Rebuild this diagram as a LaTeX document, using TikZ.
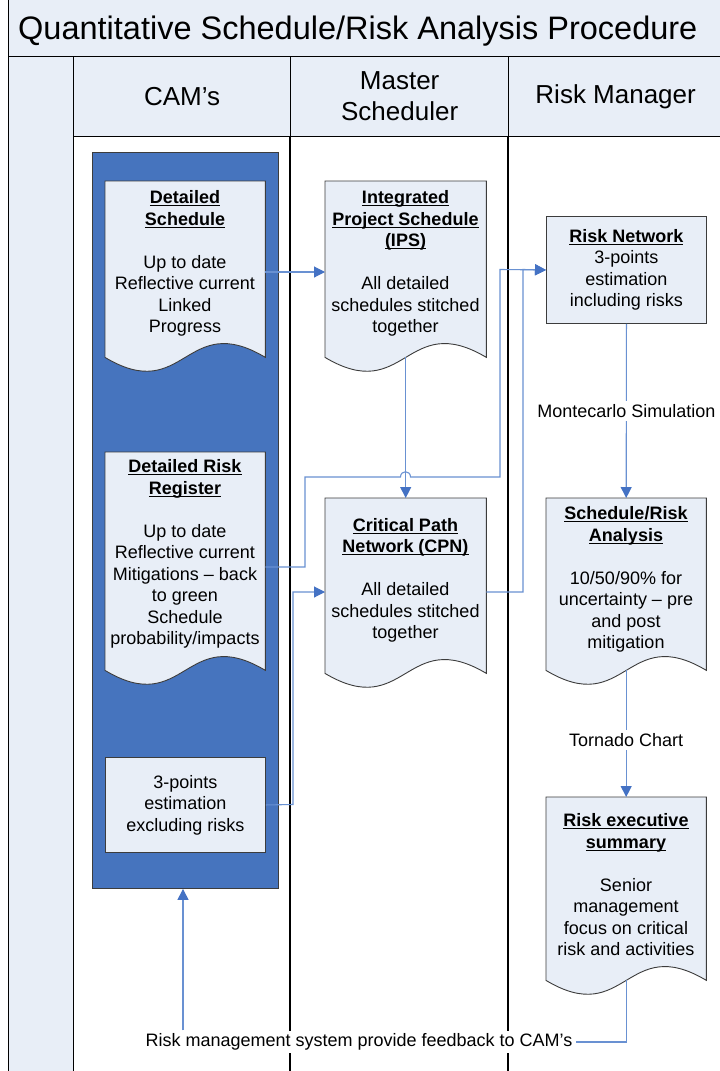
\documentclass[tikz,border=0pt]{standalone}
\usepackage{fontspec}
\setmainfont{Liberation Sans}
\usetikzlibrary{arrows.meta,calc}
\definecolor{lightfill}{RGB}{232,238,247}
\definecolor{camblue}{RGB}{70,116,190}
\definecolor{connline}{RGB}{105,145,210}
\definecolor{arrowblue}{RGB}{68,114,196}
\definecolor{docedge}{RGB}{60,60,60}
\newsavebox{\bubox}
\newcommand{\docoutline}[1]{\path[docshape] (#1.north west) -- (#1.north east) -- (#1.south east) .. controls ($(#1.south)+(0,-48)$) and ($(#1.south)+(0,48)$) .. (#1.south west) -- cycle;}
\newcommand{\bu}[1]{\sbox{\bubox}{\textbf{#1}}\leavevmode\rlap{\rule[-2.6pt]{\wd\bubox}{1.1pt}}\usebox{\bubox}}
\begin{document}
\begin{tikzpicture}[x=1pt,y=-1pt,
  frame/.style={draw=black,line width=1.3pt},
  hdrcell/.style={frame,fill=lightfill,inner sep=0pt,anchor=north west,font=\fontsize{26}{31}\selectfont,align=center},
  docbox/.style={inner sep=0pt,anchor=north west,minimum width=160pt},
  docshape/.style={fill=lightfill,draw=docedge,line width=0.9pt},
  doctext/.style={font=\fontsize{18}{21.5}\selectfont,align=center,anchor=north,inner sep=0pt},
  procbox/.style={fill=lightfill,draw=docedge,line width=0.9pt,minimum width=160pt,inner sep=0pt,anchor=north west,font=\fontsize{18}{21.5}\selectfont,align=center},
  conn/.style={draw=connline,line width=1.1pt},
  arr/.style={-{Triangle[length=11pt,width=11pt,color=arrowblue]}},
  lbl/.style={font=\fontsize{18}{21.5}\selectfont,fill=white,inner sep=3pt}
]
\useasboundingbox (0,0) rectangle (720,1071);
\fill[white] (0,0) rectangle (720,1071);

% frame
\node[hdrcell,minimum width=714pt,minimum height=57pt] (title) at (8,-1) {};
\node[anchor=base west,font=\fontsize{32.5}{38}\selectfont,inner sep=0pt] (titletext) at (18,39.5) {Quantitative Schedule/Risk Analysis Procedure};
\node[hdrcell,minimum width=65pt,minimum height=1020pt] (strip) at (8,56) {};
\node[hdrcell,minimum width=217pt,minimum height=80pt] (cams) at (73,56) {CAM’s};
\node[hdrcell,minimum width=218pt,minimum height=80pt] (ms) at (290,56) {Master\\Scheduler};
\node[hdrcell,minimum width=214pt,minimum height=80pt] (rm) at (508,56) {Risk Manager};
\draw[frame] (ms.south west) -- (290,1073);
\draw[frame] (rm.south west) -- (508,1073);

% CAM's container
\node[draw=docedge,fill=camblue,line width=0.9pt,minimum width=186pt,minimum height=736pt,anchor=north west,inner sep=0pt] (cam) at (92,152) {};

% documents
\node[docbox,minimum height=176pt] (ds) at (105,181) {};
\docoutline{ds}
\node[doctext] (dstext) at (185,190.4) {\bu{Detailed}\\\bu{Schedule}\\[21.5pt]Up to date\\Reflective current\\Linked\\Progress};

\node[docbox,minimum width=161pt,minimum height=176pt] (ips) at (325,181) {};
\docoutline{ips}
\node[doctext] (ipstext) at (405.5,190.4) {\bu{Integrated}\\\bu{Project Schedule}\\\bu{(IPS)}\\[21.5pt]All detailed\\schedules stitched\\together};

\node[docbox,minimum height=218pt] (drr) at (105,452) {};
\docoutline{drr}
\node[doctext] (drrtext) at (185,459.4) {\bu{Detailed Risk}\\\bu{Register}\\[21.5pt]Up to date\\Reflective current\\Mitigations – back\\to green\\Schedule\\probability/impacts};

\node[docbox,minimum width=161pt,minimum height=175pt] (cpn) at (325,498) {};
\docoutline{cpn}
\node[doctext] (cpntext) at (405.5,518) {\bu{Critical Path}\\\bu{Network (CPN)}\\[21.5pt]All detailed\\schedules stitched\\together};

\node[docbox,minimum height=172pt] (sra) at (546,498) {};
\docoutline{sra}
\node[doctext] (sratext) at (626,506.4) {\bu{Schedule/Risk}\\\bu{Analysis}\\[21.5pt]10/50/90\% for\\uncertainty – pre\\and post\\mitigation};

\node[docbox,minimum height=183pt] (res) at (546,797) {};
\docoutline{res}
\node[doctext] (restext) at (626,813.4) {\bu{Risk executive}\\\bu{summary}\\[21.5pt]Senior\\management\\focus on critical\\risk and activities};

% process boxes
\node[procbox,minimum height=107pt] (rn) at (546,216) {\bu{Risk Network}\\3-points\\estimation\\including risks};
\node[procbox,minimum height=95pt] (tp) at (105,757) {3-points\\estimation\\excluding risks};

% connectors
\draw[conn,arr] (ds.east |- 0,272) -- (ips.west |- 0,272);
\draw[conn,arr] (ips.south) -- (cpn.north);
\draw[conn,arr] (drr.east |- 0,567) -- (305,567) -- (305,477) -- (400.5,477) .. controls (400.5,470) and (410.5,470) .. (410.5,477) -- (500,477) -- (500,269.5) -- (rn.west);
\draw[conn,arr] (cpn.east |- 0,592) -- (523,592) -- (523,269.5) -- (rn.west);
\draw[conn,arr] (tp.east) -- (293,804.5) -- (293,592) -- (cpn.west |- 0,592);
\draw[conn,arr] (rn.south) -- node[lbl] (mc) {Montecarlo Simulation} (sra.north);
\draw[conn,arr] (sra.south) -- node[lbl,pos=0.55] (tc) {Tornado Chart} (res.north);

\node[lbl] (fb) at (359,1042) {Risk management system provide feedback to CAM’s};
\draw[conn] (res.south) |- (fb.east);
\draw[conn,arr] (fb.north -| 183,0) -- (cam.south -| 183,0);
\end{tikzpicture}
\end{document}
